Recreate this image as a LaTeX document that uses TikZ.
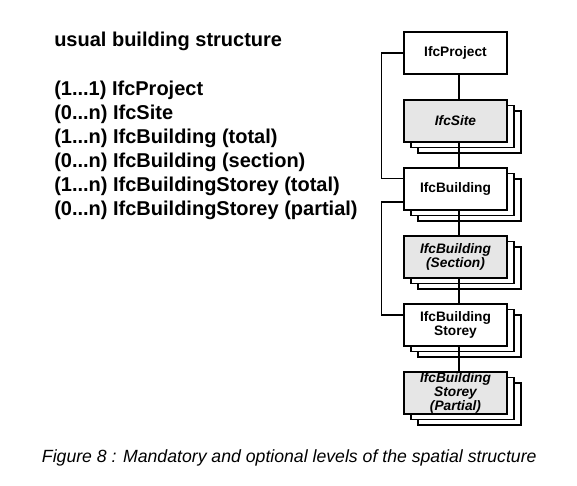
\documentclass[tikz,border=0pt]{standalone}
\usepackage{fontspec}
\setmainfont{Liberation Sans}
\usepackage{tikz}
\usetikzlibrary{positioning,shadows}
\definecolor{optgray}{RGB}{230,230,230}
\tikzstyle{levelbox} = [rectangle, draw=black, line width=0.9pt, fill=white, minimum width=77.25pt, minimum height=31.5pt, inner sep=0pt, align=center, font=\fontsize{10.3}{10.6}\selectfont\bfseries]
\tikzstyle{optbox} = [fill=optgray, font=\fontsize{10.3}{10.6}\selectfont\bfseries\itshape]
\tikzstyle{stacked} = [copy shadow={shadow xshift=10.5pt, shadow yshift=-8.25pt, fill=white, draw=black, line width=0.9pt}, copy shadow={shadow xshift=5.25pt, shadow yshift=-4.1pt, fill=white, draw=black, line width=0.9pt}]
\tikzstyle{edgeshade} = [drop shadow={shadow xshift=0.8pt, shadow yshift=-0.8pt, opacity=1, fill=gray!70}]
\tikzstyle{listtext} = [anchor=base west, inner sep=0pt, font=\fontsize{15}{18}\selectfont\bfseries]
\tikzstyle{connect} = [line width=0.9pt]

\begin{document}
\begin{tikzpicture}[x=0.75pt, y=-0.75pt, node distance=18.6pt]
			\useasboundingbox (0,0) rectangle (577,485);
			\node (title) [listtext] at (54,46) {usual building structure};
			\node (lproj) [listtext] at (54,95.3) {(1...1) IfcProject};
			\node (lsite) [listtext] at (54,119.3) {(0...n) IfcSite};
			\node (lbldg) [listtext] at (54,143.3) {(1...n) IfcBuilding (total)};
			\node (lsect) [listtext] at (54,167.3) {(0...n) IfcBuilding (section)};
			\node (lstorey) [listtext] at (54,191.3) {(1...n) IfcBuildingStorey (total)};
			\node (lpart) [listtext] at (54,215.3) {(0...n) IfcBuildingStorey (partial)};
			
			\node (proj) [levelbox, edgeshade] at (455.5,53) {IfcProject};
			\node (site) [levelbox, optbox, stacked, edgeshade, below=of proj] {IfcSite};
			\node (bldg) [levelbox, stacked, edgeshade, below=of site] {IfcBuilding};
			\node (sect) [levelbox, optbox, stacked, edgeshade, below=of bldg] {IfcBuilding\\(Section)};
			\node (storey) [levelbox, stacked, edgeshade, below=of sect] {IfcBuilding\\Storey};
			\node (part) [levelbox, optbox, stacked, edgeshade, below=of storey] {IfcBuilding\\Storey\\(Partial)};
			
			\draw [connect] ([xshift=2.6pt]proj.south) -- ([xshift=2.6pt]site.north);
			\draw [connect] ([xshift=2.6pt]site.south) -- ([xshift=2.6pt]bldg.north);
			\draw [connect] ([xshift=2.6pt]bldg.south) -- ([xshift=2.6pt]sect.north);
			\draw [connect] ([xshift=2.6pt]sect.south) -- ([xshift=2.6pt]storey.north);
			\draw [connect] ([xshift=2.6pt]storey.south) -- ([xshift=2.6pt]part.north);
			\draw [connect] (proj.west) -- ++(-22,0) |- ([yshift=8pt]bldg.west);
			\draw [connect] ([yshift=-9.75pt]bldg.west) -- ++(-22,0) |- ([yshift=7.5pt]storey.west);
			
			\node (caption) [anchor=base west, inner sep=0pt, font=\fontsize{13.25}{16}\selectfont\itshape] at (41.7,462.3) {Figure 8 : Mandatory and optional levels of the spatial structure};
			\end{tikzpicture}
\end{document}
